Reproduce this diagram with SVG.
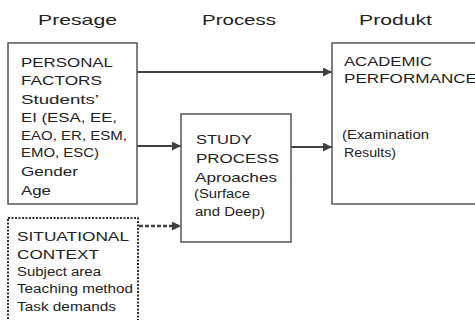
<svg xmlns="http://www.w3.org/2000/svg" width="475" height="320" viewBox="0 0 475 320">
<defs>
<marker id="ah" markerWidth="10" markerHeight="10" refX="9" refY="4.5" orient="auto" markerUnits="userSpaceOnUse">
<path d="M0,0 L9,4.5 L0,9 Z" fill="#404040"/>
</marker>
<style>
text{font-family:"Liberation Sans",Arial,sans-serif;fill:#222;}
.h{font-size:15px;}
.t{font-size:13.5px;}
.s{font-size:12.5px;}
.box{fill:#fff;stroke:#555;stroke-width:1.5;}
.dot{fill:#fff;stroke:#333;stroke-width:2;stroke-dasharray:2 1.5;}
.c{stroke:#404040;stroke-width:2.2;fill:none;}
.d{stroke:#404040;stroke-width:2.5;fill:none;stroke-dasharray:4 2;}
</style>
</defs>
<rect width="475" height="320" fill="#fff"/>
<g id="headings">
<text class="h" x="38" y="25" textLength="79" lengthAdjust="spacingAndGlyphs">Presage</text>
<text class="h" x="202" y="25" textLength="74" lengthAdjust="spacingAndGlyphs">Process</text>
<text class="h" x="359" y="25" textLength="73" lengthAdjust="spacingAndGlyphs">Produkt</text>
</g>
<g id="connectors">
<line class="c" x1="137" y1="72" x2="332" y2="72" marker-end="url(#ah)"/>
<line class="c" x1="137" y1="146" x2="181" y2="146" marker-end="url(#ah)"/>
<line class="c" x1="291" y1="147" x2="332" y2="147" marker-end="url(#ah)"/>
<line class="d" x1="139" y1="226" x2="181" y2="226" marker-end="url(#ah)"/>
</g>
<g id="personal">
<rect class="box" x="8" y="43" width="129" height="161"/>
<text class="t" x="21" y="67" textLength="92" lengthAdjust="spacingAndGlyphs">PERSONAL</text>
<text class="t" x="21" y="85" textLength="81" lengthAdjust="spacingAndGlyphs">FACTORS</text>
<text class="t" x="21" y="104" textLength="78" lengthAdjust="spacingAndGlyphs">Students’</text>
<text class="t" x="21" y="122" textLength="96" lengthAdjust="spacingAndGlyphs">EI (ESA, EE,</text>
<text class="t" x="21" y="140" textLength="106" lengthAdjust="spacingAndGlyphs">EAO, ER, ESM,</text>
<text class="t" x="21" y="157" textLength="78" lengthAdjust="spacingAndGlyphs">EMO, ESC)</text>
<text class="t" x="21" y="176" textLength="57" lengthAdjust="spacingAndGlyphs">Gender</text>
<text class="t" x="21" y="195" textLength="30" lengthAdjust="spacingAndGlyphs">Age</text>
</g>
<g id="situational">
<rect class="dot" x="8" y="218" width="130" height="120"/>
<text class="t" x="17" y="241" textLength="112" lengthAdjust="spacingAndGlyphs">SITUATIONAL</text>
<text class="t" x="17" y="259" textLength="82" lengthAdjust="spacingAndGlyphs">CONTEXT</text>
<text class="s" x="17" y="276" textLength="84" lengthAdjust="spacingAndGlyphs">Subject area</text>
<text class="s" x="17" y="293" textLength="116" lengthAdjust="spacingAndGlyphs">Teaching method</text>
<text class="s" x="17" y="311" textLength="99" lengthAdjust="spacingAndGlyphs">Task demands</text>
</g>
<g id="study">
<rect class="box" x="181" y="114" width="110" height="128"/>
<text class="t" x="196" y="144" textLength="56" lengthAdjust="spacingAndGlyphs">STUDY</text>
<text class="t" x="196" y="163" textLength="83" lengthAdjust="spacingAndGlyphs">PROCESS</text>
<text class="t" x="195" y="182" textLength="82" lengthAdjust="spacingAndGlyphs">Aproaches</text>
<text class="s" x="194" y="198" textLength="56" lengthAdjust="spacingAndGlyphs">(Surface</text>
<text class="s" x="195" y="216" textLength="70" lengthAdjust="spacingAndGlyphs">and Deep)</text>
</g>
<g id="academic">
<rect class="box" x="332" y="43" width="160" height="161"/>
<text class="s" x="344" y="66" textLength="88" lengthAdjust="spacingAndGlyphs">ACADEMIC</text>
<text class="s" x="344" y="83" textLength="133" lengthAdjust="spacingAndGlyphs">PERFORMANCE</text>
<text class="s" x="342" y="139" textLength="87" lengthAdjust="spacingAndGlyphs">(Examination</text>
<text class="s" x="344" y="157" textLength="52" lengthAdjust="spacingAndGlyphs">Results)</text>
</g>
</svg>
